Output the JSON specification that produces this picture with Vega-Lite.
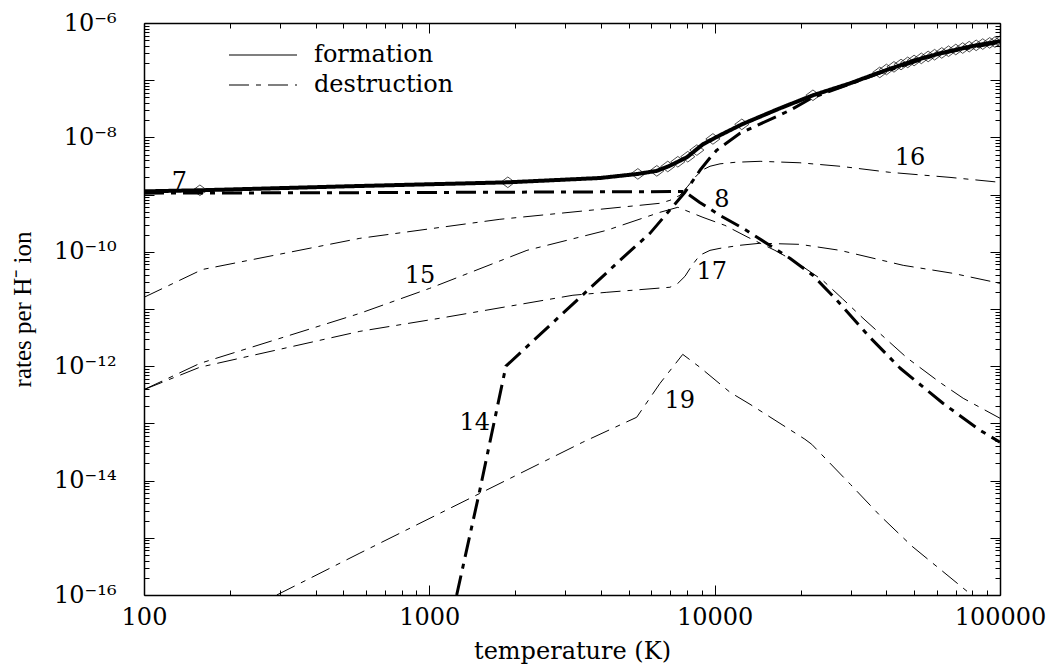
{
  "$schema": "https://vega.github.io/schema/vega-lite/v6.json",
  "width": 856,
  "height": 572,
  "autosize": {"type": "none"},
  "padding": {"left": 144, "top": 23, "right": 54, "bottom": 76},
  "background": "white",
  "config": {
    "font": "DejaVu Serif",
    "view": {"stroke": null},
    "axis": {
      "grid": false,
      "domainColor": "black",
      "domainWidth": 1.5,
      "tickColor": "black",
      "tickWidth": 1,
      "labelColor": "black",
      "titleColor": "black",
      "labelFont": "DejaVu Serif",
      "titleFont": "DejaVu Serif",
      "titleFontWeight": "normal",
      "labelOverlap": false,
      "labelFlush": false,
      "labelBound": false
    }
  },
  "datasets": {
    "curves": [
      {"series": "7", "kind": "formation", "T": 100, "rate": 1.14e-9},
      {"series": "7", "kind": "formation", "T": 157, "rate": 1.19e-9},
      {"series": "7", "kind": "formation", "T": 526, "rate": 1.40e-9},
      {"series": "7", "kind": "formation", "T": 1884, "rate": 1.64e-9},
      {"series": "7", "kind": "formation", "T": 3960, "rate": 1.95e-9},
      {"series": "7", "kind": "formation", "T": 5380, "rate": 2.3e-9},
      {"series": "7", "kind": "formation", "T": 6270, "rate": 2.6e-9},
      {"series": "7", "kind": "formation", "T": 6970, "rate": 3.2e-9},
      {"series": "7", "kind": "formation", "T": 7990, "rate": 4.49e-9},
      {"series": "7", "kind": "formation", "T": 9100, "rate": 7.6e-9},
      {"series": "7", "kind": "formation", "T": 10440, "rate": 1.09e-8},
      {"series": "7", "kind": "formation", "T": 12450, "rate": 1.69e-8},
      {"series": "7", "kind": "formation", "T": 16940, "rate": 3.23e-8},
      {"series": "7", "kind": "formation", "T": 22100, "rate": 5.45e-8},
      {"series": "7", "kind": "formation", "T": 29800, "rate": 8.8e-8},
      {"series": "7", "kind": "formation", "T": 37900, "rate": 1.37e-7},
      {"series": "7", "kind": "formation", "T": 50000, "rate": 2.21e-7},
      {"series": "7", "kind": "formation", "T": 61600, "rate": 2.95e-7},
      {"series": "7", "kind": "formation", "T": 80000, "rate": 3.95e-7},
      {"series": "7", "kind": "formation", "T": 100000, "rate": 4.79e-7},

      {"series": "8", "kind": "destruction", "T": 100, "rate": 1.06e-9},
      {"series": "8", "kind": "destruction", "T": 1000, "rate": 1.09e-9},
      {"series": "8", "kind": "destruction", "T": 7850, "rate": 1.13e-9},
      {"series": "8", "kind": "destruction", "T": 8870, "rate": 7.3e-10},
      {"series": "8", "kind": "destruction", "T": 10420, "rate": 4.35e-10},
      {"series": "8", "kind": "destruction", "T": 12760, "rate": 2.47e-10},
      {"series": "8", "kind": "destruction", "T": 18350, "rate": 7.7e-11},
      {"series": "8", "kind": "destruction", "T": 22100, "rate": 3.88e-11},
      {"series": "8", "kind": "destruction", "T": 26800, "rate": 1.42e-11},
      {"series": "8", "kind": "destruction", "T": 35000, "rate": 3.2e-12},
      {"series": "8", "kind": "destruction", "T": 44700, "rate": 9.2e-13},
      {"series": "8", "kind": "destruction", "T": 63100, "rate": 2.25e-13},
      {"series": "8", "kind": "destruction", "T": 85100, "rate": 7.6e-14},
      {"series": "8", "kind": "destruction", "T": 100000, "rate": 4.7e-14},

      {"series": "14", "kind": "destruction", "T": 1247, "rate": 1e-16},
      {"series": "14", "kind": "destruction", "T": 1503, "rate": 6.8e-15},
      {"series": "14", "kind": "destruction", "T": 1855, "rate": 1.0e-12},
      {"series": "14", "kind": "destruction", "T": 4780, "rate": 8.0e-11},
      {"series": "14", "kind": "destruction", "T": 5930, "rate": 2.1e-10},
      {"series": "14", "kind": "destruction", "T": 7870, "rate": 1.1e-9},
      {"series": "14", "kind": "destruction", "T": 8880, "rate": 2.66e-9},
      {"series": "14", "kind": "destruction", "T": 9700, "rate": 4.6e-9},
      {"series": "14", "kind": "destruction", "T": 10180, "rate": 6.0e-9},
      {"series": "14", "kind": "destruction", "T": 12270, "rate": 1.18e-8},
      {"series": "14", "kind": "destruction", "T": 18360, "rate": 2.98e-8},
      {"series": "14", "kind": "destruction", "T": 22100, "rate": 5.0e-8},
      {"series": "14", "kind": "destruction", "T": 37900, "rate": 1.33e-7},
      {"series": "14", "kind": "destruction", "T": 61600, "rate": 2.9e-7},
      {"series": "14", "kind": "destruction", "T": 100000, "rate": 4.65e-7},

      {"series": "15", "kind": "destruction", "T": 100, "rate": 3.9e-13},
      {"series": "15", "kind": "destruction", "T": 157, "rate": 1.12e-12},
      {"series": "15", "kind": "destruction", "T": 571, "rate": 8.4e-12},
      {"series": "15", "kind": "destruction", "T": 1004, "rate": 2.3e-11},
      {"series": "15", "kind": "destruction", "T": 2198, "rate": 1.06e-10},
      {"series": "15", "kind": "destruction", "T": 4190, "rate": 2.38e-10},
      {"series": "15", "kind": "destruction", "T": 6430, "rate": 4.9e-10},
      {"series": "15", "kind": "destruction", "T": 7430, "rate": 6.0e-10},
      {"series": "15", "kind": "destruction", "T": 9100, "rate": 4.0e-10},
      {"series": "15", "kind": "destruction", "T": 10860, "rate": 2.9e-10},
      {"series": "15", "kind": "destruction", "T": 13090, "rate": 1.79e-10},
      {"series": "15", "kind": "destruction", "T": 16260, "rate": 1.06e-10},
      {"series": "15", "kind": "destruction", "T": 19400, "rate": 6.5e-11},
      {"series": "15", "kind": "destruction", "T": 23900, "rate": 3.18e-11},
      {"series": "15", "kind": "destruction", "T": 28100, "rate": 1.5e-11},
      {"series": "15", "kind": "destruction", "T": 33100, "rate": 6.9e-12},
      {"series": "15", "kind": "destruction", "T": 47200, "rate": 1.4e-12},
      {"series": "15", "kind": "destruction", "T": 61600, "rate": 5.2e-13},
      {"series": "15", "kind": "destruction", "T": 74300, "rate": 2.75e-13},
      {"series": "15", "kind": "destruction", "T": 100000, "rate": 1.23e-13},

      {"series": "16", "kind": "destruction", "T": 100, "rate": 1.6e-11},
      {"series": "16", "kind": "destruction", "T": 160, "rate": 4.9e-11},
      {"series": "16", "kind": "destruction", "T": 571, "rate": 1.72e-10},
      {"series": "16", "kind": "destruction", "T": 1767, "rate": 3.7e-10},
      {"series": "16", "kind": "destruction", "T": 6430, "rate": 7.05e-10},
      {"series": "16", "kind": "destruction", "T": 6970, "rate": 7.94e-10},
      {"series": "16", "kind": "destruction", "T": 7550, "rate": 9.7e-10},
      {"series": "16", "kind": "destruction", "T": 8050, "rate": 1.40e-9},
      {"series": "16", "kind": "destruction", "T": 8530, "rate": 2.0e-9},
      {"series": "16", "kind": "destruction", "T": 9020, "rate": 2.66e-9},
      {"series": "16", "kind": "destruction", "T": 9630, "rate": 3.13e-9},
      {"series": "16", "kind": "destruction", "T": 10440, "rate": 3.45e-9},
      {"series": "16", "kind": "destruction", "T": 11790, "rate": 3.67e-9},
      {"series": "16", "kind": "destruction", "T": 14430, "rate": 3.82e-9},
      {"series": "16", "kind": "destruction", "T": 19900, "rate": 3.6e-9},
      {"series": "16", "kind": "destruction", "T": 27500, "rate": 3.13e-9},
      {"series": "16", "kind": "destruction", "T": 41100, "rate": 2.45e-9},
      {"series": "16", "kind": "destruction", "T": 66800, "rate": 2.0e-9},
      {"series": "16", "kind": "destruction", "T": 100000, "rate": 1.64e-9},

      {"series": "17", "kind": "destruction", "T": 100, "rate": 3.9e-13},
      {"series": "17", "kind": "destruction", "T": 157, "rate": 9.6e-13},
      {"series": "17", "kind": "destruction", "T": 571, "rate": 4.07e-12},
      {"series": "17", "kind": "destruction", "T": 1089, "rate": 6.9e-12},
      {"series": "17", "kind": "destruction", "T": 3186, "rate": 1.74e-11},
      {"series": "17", "kind": "destruction", "T": 4190, "rate": 1.96e-11},
      {"series": "17", "kind": "destruction", "T": 6970, "rate": 2.4e-11},
      {"series": "17", "kind": "destruction", "T": 7430, "rate": 2.81e-11},
      {"series": "17", "kind": "destruction", "T": 7870, "rate": 3.73e-11},
      {"series": "17", "kind": "destruction", "T": 8330, "rate": 5.8e-11},
      {"series": "17", "kind": "destruction", "T": 8870, "rate": 8.7e-11},
      {"series": "17", "kind": "destruction", "T": 9630, "rate": 1.06e-10},
      {"series": "17", "kind": "destruction", "T": 10440, "rate": 1.15e-10},
      {"series": "17", "kind": "destruction", "T": 12270, "rate": 1.30e-10},
      {"series": "17", "kind": "destruction", "T": 14430, "rate": 1.41e-10},
      {"series": "17", "kind": "destruction", "T": 19900, "rate": 1.35e-10},
      {"series": "17", "kind": "destruction", "T": 27500, "rate": 1.06e-10},
      {"series": "17", "kind": "destruction", "T": 45800, "rate": 5.8e-11},
      {"series": "17", "kind": "destruction", "T": 68500, "rate": 4.2e-11},
      {"series": "17", "kind": "destruction", "T": 100000, "rate": 2.81e-11},

      {"series": "19", "kind": "destruction", "T": 292, "rate": 1e-16},
      {"series": "19", "kind": "destruction", "T": 571, "rate": 5.4e-16},
      {"series": "19", "kind": "destruction", "T": 3452, "rate": 4.7e-14},
      {"series": "19", "kind": "destruction", "T": 5330, "rate": 1.28e-13},
      {"series": "19", "kind": "destruction", "T": 6430, "rate": 5.0e-13},
      {"series": "19", "kind": "destruction", "T": 7730, "rate": 1.61e-12},
      {"series": "19", "kind": "destruction", "T": 8870, "rate": 9.6e-13},
      {"series": "19", "kind": "destruction", "T": 11320, "rate": 3.5e-13},
      {"series": "19", "kind": "destruction", "T": 13300, "rate": 2.16e-13},
      {"series": "19", "kind": "destruction", "T": 20700, "rate": 5.3e-14},
      {"series": "19", "kind": "destruction", "T": 21900, "rate": 4.3e-14},
      {"series": "19", "kind": "destruction", "T": 29900, "rate": 8.6e-15},
      {"series": "19", "kind": "destruction", "T": 37900, "rate": 2.47e-15},
      {"series": "19", "kind": "destruction", "T": 49200, "rate": 7.1e-16},
      {"series": "19", "kind": "destruction", "T": 79500, "rate": 1e-16}
    ],
    "diamonds": [
      {"T": 157, "rate": 1.19e-9},
      {"T": 1884, "rate": 1.64e-9},
      {"T": 5380, "rate": 2.30e-9},
      {"T": 6270, "rate": 2.6e-9},
      {"T": 6850, "rate": 3.1e-9},
      {"T": 7430, "rate": 3.75e-9},
      {"T": 8050, "rate": 4.6e-9},
      {"T": 8660, "rate": 6.0e-9},
      {"T": 9860, "rate": 9.4e-9},
      {"T": 12450, "rate": 1.69e-8},
      {"T": 22100, "rate": 5.45e-8},
      {"T": 37900, "rate": 1.37e-7},
      {"T": 40000, "rate": 1.54e-7},
      {"T": 42500, "rate": 1.71e-7},
      {"T": 45000, "rate": 1.88e-7},
      {"T": 47500, "rate": 2.05e-7},
      {"T": 50000, "rate": 2.21e-7},
      {"T": 53000, "rate": 2.41e-7},
      {"T": 56000, "rate": 2.60e-7},
      {"T": 59000, "rate": 2.79e-7},
      {"T": 62500, "rate": 3.00e-7},
      {"T": 66000, "rate": 3.21e-7},
      {"T": 70000, "rate": 3.44e-7},
      {"T": 74000, "rate": 3.65e-7},
      {"T": 78000, "rate": 3.86e-7},
      {"T": 82500, "rate": 4.07e-7},
      {"T": 87000, "rate": 4.28e-7},
      {"T": 92000, "rate": 4.49e-7},
      {"T": 96000, "rate": 4.64e-7},
      {"T": 100000, "rate": 4.79e-7}
    ],
    "labels": [
      {"label": "7", "T": 133, "rate": 1.64e-9},
      {"label": "8", "T": 10600, "rate": 7.9e-10},
      {"label": "14", "T": 1442, "rate": 1.0e-13},
      {"label": "15", "T": 927, "rate": 3.7e-11},
      {"label": "16", "T": 48400, "rate": 4.3e-9},
      {"label": "17", "T": 9770, "rate": 4.4e-11},
      {"label": "19", "T": 7550, "rate": 2.5e-13}
    ]
  },
  "layer": [
    {
      "data": {"name": "curves"},
      "mark": {"type": "line", "color": "black", "interpolate": "linear", "clip": true, "strokeJoin": "round"},
      "encoding": {
        "x": {
          "field": "T", "type": "quantitative",
          "scale": {"type": "log", "domain": [100, 100000], "nice": false},
          "axis": {
            "orient": "bottom",
            "values": [100,200,300,400,500,600,700,800,900,1000,2000,3000,4000,5000,6000,7000,8000,9000,10000,20000,30000,40000,50000,60000,70000,80000,90000,100000],
            "labelExpr": "abs(log(datum.value)/LN10 - round(log(datum.value)/LN10)) < 0.001 ? format(datum.value, 'd') : ''",
            "tickSize": {"condition": {"test": "abs(log(datum.value)/LN10 - round(log(datum.value)/LN10)) < 0.001", "value": -10}, "value": -5},
            "labelPadding": 20,
            "labelFontSize": 24,
            "title": "temperature (K)",
            "titleFontSize": 24,
            "titleY": 63,
            "titleBaseline": "alphabetic"
          }
        },
        "y": {
          "field": "rate", "type": "quantitative",
          "scale": {"type": "log", "domain": [1e-16, 1e-6], "nice": false},
          "axis": {
            "orient": "left",
            "values": [1e-16,2e-16,3e-16,4e-16,5e-16,6e-16,7e-16,8e-16,9e-16,1e-15,2e-15,3e-15,4e-15,5e-15,6e-15,7e-15,8e-15,9e-15,1e-14,2e-14,3e-14,4e-14,5e-14,6e-14,7e-14,8e-14,9e-14,1e-13,2e-13,3e-13,4e-13,5e-13,6e-13,7e-13,8e-13,9e-13,1e-12,2e-12,3e-12,4e-12,5e-12,6e-12,7e-12,8e-12,9e-12,1e-11,2e-11,3e-11,4e-11,5e-11,6e-11,7e-11,8e-11,9e-11,1e-10,2e-10,3e-10,4e-10,5e-10,6e-10,7e-10,8e-10,9e-10,1e-9,2e-9,3e-9,4e-9,5e-9,6e-9,7e-9,8e-9,9e-9,1e-8,2e-8,3e-8,4e-8,5e-8,6e-8,7e-8,8e-8,9e-8,1e-7,2e-7,3e-7,4e-7,5e-7,6e-7,7e-7,8e-7,9e-7,1e-6],
            "labelExpr": "abs(log(datum.value)/LN10 - round(log(datum.value)/LN10)) < 0.001 && round(-log(datum.value)/LN10) % 2 == 0 ? '10⁻' + (round(-log(datum.value)/LN10) >= 10 ? '¹' : '') + substring('⁰¹²³⁴⁵⁶⁷⁸⁹', round(-log(datum.value)/LN10) % 10, round(-log(datum.value)/LN10) % 10 + 1) : ''",
            "tickSize": {"condition": {"test": "abs(log(datum.value)/LN10 - round(log(datum.value)/LN10)) < 0.001", "value": -10}, "value": -5},
            "labelPadding": 38,
            "labelFontSize": 24,
            "title": "rates per H⁻ ion",
            "titleFont": "Liberation Serif",
            "titleFontSize": 25,
            "titleX": -122,
            "titleY": 286,
            "titleAngle": -90,
            "titleAlign": "center",
            "titleBaseline": "middle"
          }
        },
        "strokeDash": {
          "field": "kind", "type": "nominal",
          "scale": {"domain": ["formation", "destruction"], "range": [[1, 0], [20, 7, 5, 7]]},
          "legend": {
            "orient": "none",
            "legendX": 107,
            "legendY": 20,
            "title": null,
            "symbolType": "M-5,0H5",
            "symbolSize": 185,
            "symbolStrokeWidth": 1.2,
            "symbolStrokeColor": "black",
            "labelFontSize": 24,
            "labelFont": "DejaVu Serif",
            "labelColor": "black",
            "labelOffset": 39,
            "rowPadding": 6,
            "padding": 0
          }
        },
        "strokeWidth": {
          "field": "series", "type": "nominal",
          "scale": {"type": "ordinal", "domain": ["7", "8", "14", "15", "16", "17", "19"], "range": [4, 3, 3, 1, 1, 1, 1]},
          "legend": null
        }
      }
    },
    {
      "data": {"name": "diamonds"},
      "mark": {"type": "point", "shape": "M-1.2,0L0,-0.9L1.2,0L0,0.9Z", "filled": false, "color": "black", "size": 140, "strokeWidth": 1, "clip": true},
      "encoding": {
        "x": {"field": "T", "type": "quantitative", "scale": {"type": "log", "domain": [100, 100000], "nice": false}, "axis": null},
        "y": {"field": "rate", "type": "quantitative", "scale": {"type": "log", "domain": [1e-16, 1e-6], "nice": false}, "axis": null}
      }
    },
    {
      "data": {"name": "labels"},
      "mark": {"type": "text", "font": "DejaVu Serif", "fontSize": 24, "color": "black", "align": "center", "baseline": "middle"},
      "encoding": {
        "x": {
          "field": "T", "type": "quantitative",
          "scale": {"type": "log", "domain": [100, 100000], "nice": false},
          "axis": {
            "orient": "top",
            "values": [100,200,300,400,500,600,700,800,900,1000,2000,3000,4000,5000,6000,7000,8000,9000,10000,20000,30000,40000,50000,60000,70000,80000,90000,100000],
            "labels": false,
            "title": null,
            "tickSize": {"condition": {"test": "abs(log(datum.value)/LN10 - round(log(datum.value)/LN10)) < 0.001", "value": -10}, "value": -5}
          }
        },
        "y": {
          "field": "rate", "type": "quantitative",
          "scale": {"type": "log", "domain": [1e-16, 1e-6], "nice": false},
          "axis": {
            "orient": "right",
            "values": [1e-16,2e-16,3e-16,4e-16,5e-16,6e-16,7e-16,8e-16,9e-16,1e-15,2e-15,3e-15,4e-15,5e-15,6e-15,7e-15,8e-15,9e-15,1e-14,2e-14,3e-14,4e-14,5e-14,6e-14,7e-14,8e-14,9e-14,1e-13,2e-13,3e-13,4e-13,5e-13,6e-13,7e-13,8e-13,9e-13,1e-12,2e-12,3e-12,4e-12,5e-12,6e-12,7e-12,8e-12,9e-12,1e-11,2e-11,3e-11,4e-11,5e-11,6e-11,7e-11,8e-11,9e-11,1e-10,2e-10,3e-10,4e-10,5e-10,6e-10,7e-10,8e-10,9e-10,1e-9,2e-9,3e-9,4e-9,5e-9,6e-9,7e-9,8e-9,9e-9,1e-8,2e-8,3e-8,4e-8,5e-8,6e-8,7e-8,8e-8,9e-8,1e-7,2e-7,3e-7,4e-7,5e-7,6e-7,7e-7,8e-7,9e-7,1e-6],
            "labels": false,
            "title": null,
            "tickSize": {"condition": {"test": "abs(log(datum.value)/LN10 - round(log(datum.value)/LN10)) < 0.001", "value": -10}, "value": -5}
          }
        },
        "text": {"field": "label", "type": "nominal"}
      }
    }
  ],
  "resolve": {"axis": {"x": "independent", "y": "independent"}}
}
